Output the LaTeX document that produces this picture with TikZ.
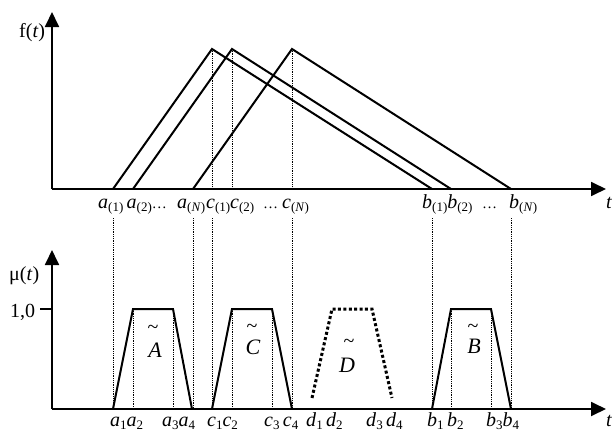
\documentclass[tikz,border=0pt]{standalone}
\usepackage{fontspec}
\setmainfont{Liberation Serif}
\usepackage{graphicx}
\usetikzlibrary{arrows.meta}
\newcommand\sbx[1]{\raisebox{-0.35ex}{\fontsize{13}{13}\selectfont #1}}
\newcommand\eld{{\fontsize{15}{15}\selectfont …}}
\begin{document}
\begin{tikzpicture}[x=1pt,y=-1pt,
  axis/.style={line width=1.8pt,-{Triangle[length=15pt,width=14pt]}},
  curve/.style={line width=2pt,line join=miter},
  guide/.style={line width=0.7pt,dash pattern=on 0.9pt off 0.9pt},
  fuzzy/.style={line width=3pt,dash pattern=on 3pt off 2.4pt},
  lab/.style={inner sep=0pt,anchor=base west,font=\fontsize{20}{20}\selectfont},
  axlab/.style={inner sep=0pt,anchor=base west,font=\fontsize{20}{20}\selectfont},
  big/.style={inner sep=0pt,anchor=base,font=\fontsize{22}{22}\selectfont\itshape},
  tld/.style={inner sep=0pt,font=\fontsize{20}{20}\selectfont}
]
\useasboundingbox (0,0) rectangle (613,431);
% ---------- top chart ----------
\coordinate (O1) at (52,189);
\coordinate (Y1) at (52,12);
\coordinate (X1) at (606,189);
% guides
\foreach \x in {212,232,292} \draw[guide] (\x,49) -- (\x,189);
\foreach \x in {113,193,212,292,432,511} \draw[guide] (\x,218) -- (\x,409);
\foreach \x in {133,173,232,272,451,491} \draw[guide] (\x,309) -- (\x,409);
% triangles
\draw[curve] (113,189) -- (212,49) -- (432,189);
\draw[curve] (133,189) -- (232,49) -- (451,189);
\draw[curve] (193,189) -- (292,49) -- (511,189);
% axes
\draw[axis] (O1) -- (Y1);
\draw[axis] (O1) -- (X1);
\node[axlab] (ft) at (19,37) {f(\textit{t})};
% top labels
\node[lab] (la1) at (98,208) {\textit{a}\sbx{(1)}\,\textit{a}\sbx{(2)}\eld};
\node[lab] (laN) at (177,208) {\textit{a}\sbx{(\textit{N})}};
\node[lab] (lc1) at (206,208) {\textit{c}\sbx{(1)}\textit{c}\sbx{(2)}};
\node[lab] (ldc) at (263,208) {\eld};
\node[lab] (lcN) at (282,208) {\textit{c}\sbx{(\textit{N})}};
\node[lab] (lb1) at (422,208) {\textit{b}\sbx{(1)}\textit{b}\sbx{(2)}};
\node[lab] (ldb) at (482,208) {\eld};
\node[lab] (lbN) at (509,208) {\textit{b}\sbx{(\textit{N})}};
\node[lab] (lt1) at (606,208) {\textit{t}};
% ---------- bottom chart ----------
\coordinate (O2) at (52,409);
\coordinate (Y2) at (52,250);
\coordinate (X2) at (606,409);
\draw[curve] (113,409) -- (133,309) -- (173,309) -- (192,409);
\draw[curve] (212,409) -- (232,309) -- (272,309) -- (292,409);
\draw[curve] (432,409) -- (451,309) -- (491,309) -- (511,409);
\draw[fuzzy] (312,398) -- (332,309) -- (372,309) -- (392,398);
\draw[axis] (O2) -- (Y2);
\draw[axis] (O2) -- (X2);
\coordinate (tk) at (40,309);
\draw[line width=1.5pt] (tk) -- (52,309);
\node[axlab] (mu) at (9,280) {μ(\textit{t})};
\node[axlab] (one) at (10,317) {1,0};
% fuzzy number names
\node[big] (A) at (155,357) {A};
\node[tld] (At) at (153,329) {\textasciitilde};
\node[big] (C) at (253,354) {C};
\node[tld] (Ct) at (252,328) {\textasciitilde};
\node[big] (D) at (347,372) {D};
\node[tld] (Dt) at (349,343) {\textasciitilde};
\node[big] (B) at (474,353) {B};
\node[tld] (Bt) at (473,328) {\textasciitilde};
% bottom labels
\node[lab] (la12) at (110,426) {\textit{a}\sbx{1}\textit{a}\sbx{2}};
\node[lab] (la34) at (162,426) {\textit{a}\sbx{3}\textit{a}\sbx{4}};
\node[lab] (lc12) at (207,426) {\textit{c}\sbx{1}\textit{c}\sbx{2}};
\node[lab] (lc34) at (264,426) {\textit{c}\sbx{3}\,\textit{c}\sbx{4}};
\node[lab] (ld12) at (306,426) {\textit{d}\sbx{1}\,\textit{d}\sbx{2}};
\node[lab] (ld34) at (366,426) {\textit{d}\sbx{3}\,\textit{d}\sbx{4}};
\node[lab] (lb12) at (427,426) {\textit{b}\sbx{1}\,\textit{b}\sbx{2}};
\node[lab] (lb34) at (486,426) {\textit{b}\sbx{3}\textit{b}\sbx{4}};
\node[lab] (lt2) at (606,426) {\textit{t}};
\end{tikzpicture}
\end{document}
